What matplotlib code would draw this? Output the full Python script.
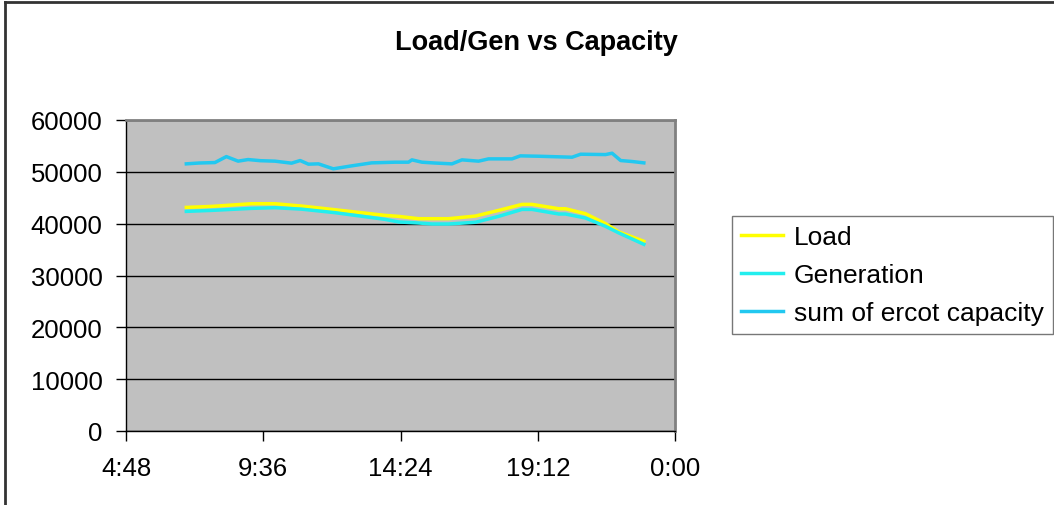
import matplotlib
matplotlib.use("Agg")
import matplotlib.pyplot as plt
from matplotlib.lines import Line2D

plt.rcParams["font.family"] = ["Liberation Sans", "DejaVu Sans"]

# ------------- DATA (hours of day, MW) -------------
cap_hours = [6.91, 7.35, 7.91, 8.31, 8.72, 9.07, 9.5, 10.01, 10.59, 10.89, 11.18,
             11.53, 12.05, 12.69, 13.39, 14.21, 14.68, 14.80, 15.15, 15.6, 16.20,
             16.55, 17.13, 17.48, 18.30, 18.59, 19.23, 20.40, 20.70, 21.57, 21.80,
             22.10, 22.50, 22.91]
capacity = [51540, 51700, 51790, 52940, 52060, 52370, 52150, 52060, 51670, 52180, 51480,
            51540, 50580, 51150, 51730, 51860, 51860, 52310, 51860, 51700, 51540,
            52310, 52060, 52500, 52500, 53080, 53010, 52820, 53400, 53330, 53590,
            52180, 51990, 51730]

lg_hours = [6.91, 7.79, 9.19, 10.01, 10.94, 12.11, 13.86, 14.33, 15.03, 15.50, 16.08,
            17.02, 17.83, 18.65, 19.00, 19.94, 20.17, 20.87, 21.57, 22.04, 22.91]
load = [43140, 43330, 43850, 43850, 43400, 42690, 41600, 41410, 40960, 40960, 40960,
        41470, 42560, 43720, 43720, 42880, 42880, 41920, 40000, 38400, 36600]
generation = [42370, 42560, 42950, 43080, 42800, 42120, 40830, 40330, 40130, 39940, 39940,
              40270, 41410, 42750, 42750, 41860, 41860, 41090, 39490, 38200, 36020]

x_ticks = [4.8, 9.6, 14.4, 19.2, 24.0]
x_labels = ["4:48", "9:36", "14:24", "19:12", "0:00"]
y_ticks = [0, 10000, 20000, 30000, 40000, 50000, 60000]
# ---------------------------------------------------

W, H = 1054, 506
fig = plt.figure(figsize=(W / 100, H / 100), dpi=100)
# plot area in pixels: left 126, right 675, top 121, bottom 432
ax = fig.add_axes([126 / W, 1 - 432 / H, (675 - 126) / W, (432 - 121) / H])
ax.set_facecolor("#C0C0C0")

ax.plot(lg_hours, load, color="#FFFF00", lw=2.5, label="Load")
ax.plot(lg_hours, generation, color="#22EEEE", lw=2.5, label="Generation")
ax.plot(cap_hours, capacity, color="#22C8F0", lw=2.5, label="sum of ercot capacity")

ax.set_xlim(4.8, 24.0)
ax.set_ylim(0, 60000)
ax.set_xticks(x_ticks)
ax.set_xticklabels(x_labels)
ax.set_yticks(y_ticks)
ax.yaxis.grid(True, color="black", lw=1)
ax.set_axisbelow(True)
ax.tick_params(labelsize=18.5, length=7, width=1, color="black")
ax.tick_params(axis="x", pad=11)
ax.tick_params(axis="y", pad=10)

for side in ("top", "right"):
    ax.spines[side].set_color("#808080")
    ax.spines[side].set_linewidth(2)
for side in ("left", "bottom"):
    ax.spines[side].set_color("black")
    ax.spines[side].set_linewidth(1)

fig.text(536 / W, 1 - 43 / H, "Load/Gen vs Capacity", ha="center", va="center",
         fontsize=19.5, fontweight="bold")

leg = fig.legend(loc="upper left", bbox_to_anchor=(732 / W, 1 - 217 / H), fontsize=19,
                 frameon=True, fancybox=False, borderpad=0.35, borderaxespad=0,
                 handlelength=1.6, handletextpad=0.4, labelspacing=0.53)
leg.get_frame().set_edgecolor("#555555")
leg.get_frame().set_linewidth(1)

# chart area border (top and left edges visible)
fig.add_artist(Line2D([5 / W, 1.0], [1 - 3 / H, 1 - 3 / H], transform=fig.transFigure,
                      color="#333333", lw=2))
fig.add_artist(Line2D([5 / W, 5 / W], [0.0, 1 - 3 / H], transform=fig.transFigure,
                      color="#333333", lw=2))

fig.savefig("out.png", dpi=100, facecolor="white")
